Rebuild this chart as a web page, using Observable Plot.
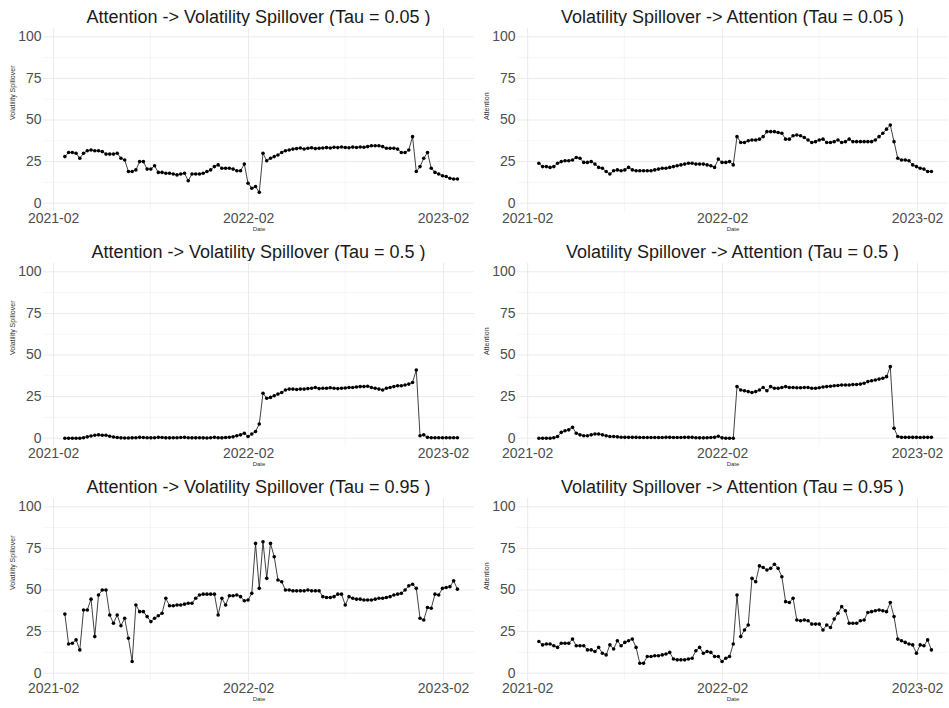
<!DOCTYPE html>
<html><head><meta charset="utf-8">
<script src="https://cdn.jsdelivr.net/npm/d3@7"></script>
<script src="https://cdn.jsdelivr.net/npm/@observablehq/plot@0.6"></script>
<style>
body{margin:0;background:#fff;font-family:"Liberation Sans",Arial,sans-serif;}
#root{position:relative;width:949px;height:708px;overflow:hidden;}
.panel{position:absolute;width:474px;height:235px;}
.title{position:absolute;left:43px;width:431px;top:6px;text-align:center;font-size:18px;color:#1a1a1a;line-height:22px;white-space:nowrap;}
.panel svg{position:absolute;top:26px;left:0;}
</style></head><body><div id="root"></div><script>
// ---- data ----
const startDate = "2021-02-22";          // first observation (weekly readings)
const xTickLabels = ["2021-02", "2022-02", "2023-02"];
const xMinorLabels = ["2021-08", "2022-08"];
const yTicks = [0, 25, 50, 75, 100];
const yMinor = [12.5, 37.5, 62.5, 87.5];
const titles = [
  "Attention -> Volatility Spillover (Tau = 0.05 )",
  "Volatility Spillover -> Attention (Tau = 0.05 )",
  "Attention -> Volatility Spillover (Tau = 0.5 )",
  "Volatility Spillover -> Attention (Tau = 0.5 )",
  "Attention -> Volatility Spillover (Tau = 0.95 )",
  "Volatility Spillover -> Attention (Tau = 0.95 )"
];
const yLabels = ["Volatility Spillover", "Attention"];

const attVs005 = [28,30.5,30.5,30,27,30,31.5,32,31.5,31.5,
 31,29.5,29.5,29.5,30,27,26,19,19,20,
 25,25,20.5,20.5,22.5,18.5,18.5,18,18,17.5,
 17,17.5,18,13.5,17.5,17.5,17.5,18,19,20,
 22,23,21,21,21,20.5,19.5,19.5,23.5,12,
 9,10,6.5,30,25.5,27,28,29,30.5,31.5,
 32,32.5,32.8,33.2,32.6,33,33.3,32.8,33,33.2,
 33.4,33.2,33.6,33.4,33.8,33.5,33.3,33.7,33.5,33.8,
 33.6,34,34.5,34.5,34.5,34,33,33,33,32.5,
 30.5,30.5,32,40,19,22,27,30.5,21,18.5,
 17.5,16.5,16,15,14.5,14.5];
const vsAtt005 = [24,22,22,21.5,22,24,25,25.5,25.5,26,
 27.5,27,24.5,24.5,25,23.5,21.5,21,19,17.5,
 19.5,20,19.5,20,21.5,20,19.5,19.5,19.5,19.5,
 19.5,20,20.5,21,21,21.5,22,22.5,23,23.5,
 24,24,23.5,23.5,23.5,23,22.5,21.5,26.5,24.5,
 24.5,25,23,40,36.5,36.5,37.5,38,38,38.5,
 40,43,43,43,42.5,42,38.5,38.5,40.5,41,
 40.5,39.5,38,36.5,37,38,38.5,36.5,36.5,37,
 38,36.5,37,38.5,37,37,37,37,37,37,
 38,40,42,44.5,47,37,27,26,26,25.5,
 23,22,21,20.5,19,19];
const attVs05 = [0,0,0,0,0,0.3,0.8,1.3,1.8,2,
 1.8,1.8,1.2,0.7,0.4,0.2,0.1,0.1,0.2,0.3,
 0.5,0.4,0.3,0.2,0.3,0.5,0.4,0.2,0.2,0.3,
 0.3,0.4,0.5,0.3,0.2,0.2,0.3,0.2,0.1,0.3,
 0.5,0.3,0.2,0.4,0.6,0.8,1.5,2,3,1,
 2.5,4,8.5,27,24,24.5,25.5,26.5,27.5,29,
 29.5,29.5,29.3,29.5,29.5,29.8,30,30.5,29.8,30,
 30,30.3,30,29.8,30,30.2,30.5,30.5,30.8,31,
 31,31.2,30.5,30,29.5,29,30,30.5,31,31.5,
 31.5,32,32.5,33.5,41,1.5,2,0.5,0.3,0.3,
 0.3,0.3,0.3,0.3,0.3,0.3];
const vsAtt05 = [0,0,0,0,0.3,1,3.5,4.5,5,6.5,
 3,2,1.5,1.5,2,2.5,2.5,2,1.5,1,
 1,0.8,0.6,0.5,0.5,0.5,0.5,0.4,0.4,0.4,
 0.4,0.4,0.4,0.4,0.5,0.5,0.4,0.4,0.4,0.5,
 0.5,0.5,0.3,0.2,0.2,0.3,0.4,0.5,1.2,0.2,
 0,0,0,31,29,28.5,28,27.5,28,29,
 30.5,28.5,31,30,30,30.5,31,30.5,30.5,30.3,
 30.3,30.5,30.5,30,30,30.3,30.8,31,31.2,31.5,
 31.7,32,32,32,32.2,32.3,32.5,33,34,34.5,
 35,35.5,36,37,43,6,1,0.5,0.5,0.5,
 0.5,0.5,0.4,0.5,0.5,0.5];
const attVs095 = [35.5,17.5,18,20,14,38,38,44.5,22,47,
 50,50,35,30,35,28.5,33,21,7,41,
 37,37,34,31,33,34.5,36,45,40.5,40.5,
 41,41,41.5,42,42,45,47,47.5,47.5,47.5,
 47.5,35,45,41,46.5,46.5,47,46,43.5,44,
 48,78,51,79,57,78,70,56,55,50,
 50,49.5,49.5,49.5,49.5,50,49.5,49.5,49.5,46,
 45.5,45.5,46,47.5,47.5,41,46,45,44.5,44.5,
 44,44,44,44.5,45,45,45.5,46,47,47.5,
 48,50,52.5,53.5,51,33,32,39.5,39,47.5,
 47,51,51.5,52,55.5,50.5];
const vsAtt095 = [19,17,17.5,17.5,16.5,15.5,18,18,18,20.5,
 16.5,16.5,16.5,14,14,13,15.5,12,11,17,
 14.5,19.5,16.5,18.5,19.5,20.5,15.5,6,6,10,
 10,10.5,10.5,11,11.5,12.5,8.5,8,8,8,
 8.5,9,13.5,15.5,12,13,12.5,10,10,7,
 9,10,17.5,47,22,26,29,57,55,64.5,
 63.5,62,63,65.5,63,58,43,42.5,45,32,
 31.5,32,31.5,29.5,29.5,29.5,26,29,27.5,32.5,
 36,40,37.5,30,30,30,31.5,32,36.5,37,
 37.5,38,37.5,37,42.5,34,20.5,19.5,18.5,17.5,
 17,12,17,16.5,20,14];

const series = [attVs005, vsAtt005, attVs05, vsAtt05, attVs095, vsAtt095];

// ---- build ----
const parseYM = d3.utcParse("%Y-%m");
const xTicks = xTickLabels.map(parseYM);
const xMinor = xMinorLabels.map(parseYM);
const start = d3.utcParse("%Y-%m-%d")(startDate);
const dates = series[0].map((_, i) => d3.utcDay.offset(start, 7 * i));
const xDomain = [d3.utcParse("%Y-%m-%d")("2021-01-13"), d3.utcParse("%Y-%m-%d")("2023-03-31")];
const font = "'Liberation Sans', Arial, sans-serif";

function panel(values, yLabel) {
  const data = dates.map((d, i) => ({date: d, value: values[i]}));
  return Plot.plot({
    width: 474, height: 209,
    marginLeft: 43, marginRight: 0, marginTop: 2, marginBottom: 24,
    style: {fontFamily: font, background: "white", overflow: "visible"},
    x: {type: "utc", domain: xDomain},
    y: {domain: [-5, 105]},
    marks: [
      Plot.ruleY(yMinor, {stroke: "#f2f2f2", strokeWidth: 0.7}),
      Plot.ruleX(xMinor, {stroke: "#f2f2f2", strokeWidth: 0.7}),
      Plot.ruleY(yTicks, {stroke: "#ebebeb", strokeWidth: 1}),
      Plot.ruleX(xTicks, {stroke: "#ebebeb", strokeWidth: 1}),
      Plot.axisX({ticks: xTicks, tickFormat: d3.utcFormat("%Y-%m"), tickSize: 0, tickPadding: 2, fontSize: 14, color: "#4d4d4d", label: null}),
      Plot.axisY({ticks: yTicks, tickSize: 0, tickPadding: 2, fontSize: 14, color: "#4d4d4d", label: null}),
      Plot.line(data, {x: "date", y: "value", stroke: "#111", strokeWidth: 0.8}),
      Plot.dot(data, {x: "date", y: "value", r: 1.8, fill: "#000"}),
      Plot.text([yLabel], {frameAnchor: "left", dx: -31, rotate: -90, fontSize: 7, fill: "#333"}),
      Plot.text(["Date"], {frameAnchor: "bottom", dy: 19, fontSize: 6, fill: "#333"})
    ]
  });
}

const root = document.getElementById("root");
series.forEach((vals, k) => {
  const row = Math.floor(k / 2), col = k % 2;
  const div = document.createElement("div");
  div.className = "panel";
  div.style.left = (col * 474) + "px";
  div.style.top = (row * 235) + "px";
  const t = document.createElement("div");
  t.className = "title";
  t.textContent = titles[k];
  div.appendChild(t);
  div.appendChild(panel(vals, yLabels[col]));
  root.appendChild(div);
});
</script></body></html>
